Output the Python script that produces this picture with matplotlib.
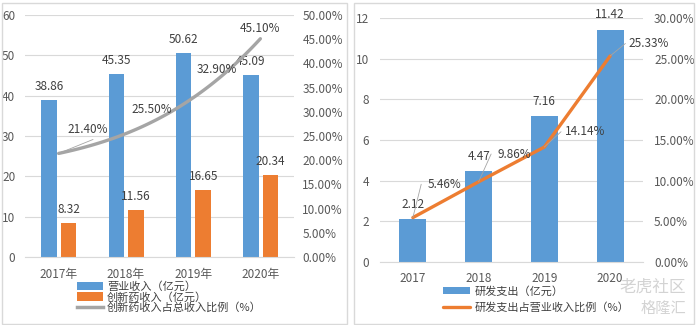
import matplotlib
matplotlib.use("Agg")
import numpy as np
import matplotlib.pyplot as plt
import matplotlib.patches as mpatches
from matplotlib.ticker import PercentFormatter

plt.rcParams['font.family'] = ['Noto Sans CJK SC', 'DejaVu Sans']
plt.rcParams['font.size'] = 8.5

# 左图数据
years_l = ['2017年', '2018年', '2019年', '2020年']
revenue = [38.86, 45.35, 50.62, 45.09]
innov_rev = [8.32, 11.56, 16.65, 20.34]
innov_ratio = [21.40, 25.50, 32.90, 45.10]

# 右图数据
years_r = ['2017', '2018', '2019', '2020']
rd_spend = [2.12, 4.47, 7.16, 11.42]
rd_ratio = [5.46, 9.86, 14.14, 25.33]

BLUE = '#5B9BD5'
ORANGE = '#ED7D31'
GRAY = '#A5A5A5'
GRID = '#D9D9D9'
TXT = '#595959'
LBL = '#404040'

W, H = 696, 325
fig = plt.figure(figsize=(W / 100, H / 100), dpi=100)


def px_axes(x0, y0, x1, y1):
    # 像素坐标(左上原点) -> figure 坐标
    return fig.add_axes([x0 / W, (H - y1) / H, (x1 - x0) / W, (y1 - y0) / H])


def style(ax, ax2):
    for a in (ax, ax2):
        for s in a.spines.values():
            s.set_visible(False)
        a.tick_params(length=0, colors=TXT, labelsize=8.5)
    ax.spines['bottom'].set_visible(True)
    ax.spines['bottom'].set_color(GRID)
    ax.grid(axis='y', color=GRID, lw=0.8)
    ax.set_axisbelow(True)


# 面板边框
fig.patches.append(mpatches.Rectangle((1.5 / W, 1.5 / H), 345.5 / W, 321 / H, transform=fig.transFigure,
                                      fill=False, ec=GRID, lw=1))
fig.patches.append(mpatches.Rectangle((354 / W, 1.5 / H), 340 / W, 321 / H, transform=fig.transFigure,
                                      fill=False, ec=GRID, lw=1))

# ---------------- 左图 ----------------
ax = px_axes(25, 15, 294, 257)
ax2 = ax.twinx()
x = list(range(len(years_l)))
bw = 0.23
b1 = ax.bar([i - 0.14 for i in x], revenue, bw, color=BLUE, label='营业收入（亿元）')
b2 = ax.bar([i + 0.15 for i in x], innov_rev, bw, color=ORANGE, label='创新药收入（亿元）')
# Excel 平滑线近似(三次多项式过四点)
xx = np.linspace(0, 3, 100)
coef = np.polyfit(np.array(x, dtype=float), innov_ratio, 3)
ax2.plot(xx, np.polyval(coef, xx), color=GRAY, lw=2.4, solid_capstyle='round')
l1, = ax2.plot([], [], color=GRAY, lw=2.5, label='创新药收入占总收入比例（%）')

ax.set_xlim(-0.5, 3.5)
ax.set_ylim(0, 60)
ax.set_yticks(range(0, 61, 10))
ax2.set_ylim(0, 50)
ax2.set_yticks(range(0, 51, 5))
ax2.yaxis.set_major_formatter(PercentFormatter(decimals=2))
ax.set_xticks(x)
ax.set_xticklabels(years_l)
style(ax, ax2)
ax.tick_params(axis='x', pad=8)
ax.tick_params(axis='y', pad=7)
ax2.tick_params(axis='y', pad=6)

for i, v in enumerate(revenue):
    ax.annotate(f'{v:.2f}', (i - 0.14, v), xytext=(0, 5), textcoords='offset points',
                ha='center', va='bottom', color=LBL, fontsize=8.5)
for i, v in enumerate(innov_rev):
    ax.annotate(f'{v:.2f}', (i + 0.15, v), xytext=(0, 5), textcoords='offset points',
                ha='center', va='bottom', color=LBL, fontsize=8.5)
offs_l = [(21, 17), (19, 17), (17, 20), (0, 7)]
for i, v in enumerate(innov_ratio):
    ax2.annotate(f'{v:.2f}%', (i, v), xytext=offs_l[i], textcoords='offset points',
                 ha='center', va='center', color=LBL, fontsize=8.5)
ax2.annotate('', (0, innov_ratio[0]), xytext=(0.55, 24.5), textcoords='data',
             arrowprops=dict(arrowstyle='-', color=GRAY, lw=0.6))

fig.legend(handles=[b1, b2, l1], loc='upper left', bbox_to_anchor=(77 / W, 1 - 281 / H),
           frameon=False, fontsize=8, labelspacing=0.0, handlelength=2.3, handleheight=0.75,
           handletextpad=0.4, borderpad=0, borderaxespad=0, labelcolor=LBL)

# ---------------- 右图 ----------------
bx = px_axes(380, 18, 643, 262)
bx2 = bx.twinx()
xr = list(range(len(years_r)))
r1 = bx.bar(xr, rd_spend, 0.41, color=BLUE, label='研发支出（亿元）')
r2, = bx2.plot(xr, rd_ratio, color=ORANGE, lw=2.4, solid_capstyle='round',
               label='研发支出占营业收入比例（%）')
bx.set_xlim(-0.5, 3.5)
bx.set_ylim(0, 12)
bx.set_yticks(range(0, 13, 2))
bx2.set_ylim(0, 30)
bx2.set_yticks(range(0, 31, 5))
bx2.yaxis.set_major_formatter(PercentFormatter(decimals=2))
bx.set_xticks(xr)
bx.set_xticklabels(years_r)
style(bx, bx2)
bx.tick_params(axis='x', pad=7)
bx.tick_params(axis='y', pad=8)
bx2.tick_params(axis='y', pad=8)

for i, v in enumerate(rd_spend):
    bx.annotate(f'{v:.2f}', (i, v), xytext=(0, 6), textcoords='offset points',
                ha='center', va='bottom', color=LBL, fontsize=8.5)
offs_r = [(23, 24), (26, 20), (29, 11), (28, 9)]
for i, v in enumerate(rd_ratio):
    bx2.annotate(f'{v:.2f}%', (i, v), xytext=offs_r[i], textcoords='offset points',
                 ha='center', va='center', color=LBL, fontsize=8.5)
    bx2.annotate('', (i, v), xytext=(offs_r[i][0] - 17, offs_r[i][1]), textcoords='offset points',
                 arrowprops=dict(arrowstyle='-', color=GRAY, lw=0.6, shrinkA=0, shrinkB=0))

fig.legend(handles=[r1, r2], loc='upper left', bbox_to_anchor=(443 / W, 1 - 286 / H),
           frameon=False, fontsize=8, labelspacing=0.45, handlelength=2.4, handleheight=0.65,
           handletextpad=0.45, borderpad=0, borderaxespad=0, labelcolor=LBL)

# 水印
fig.text(653 / W, 1 - 287 / H, '老虎社区', ha='center', va='center', fontsize=12,
         color='#C8C8C8', alpha=0.8)
fig.text(663 / W, 1 - 308 / H, '格隆汇', ha='center', va='center', fontsize=11,
         color='#C8C8C8', alpha=0.8)

fig.savefig('out.png', dpi=100)
